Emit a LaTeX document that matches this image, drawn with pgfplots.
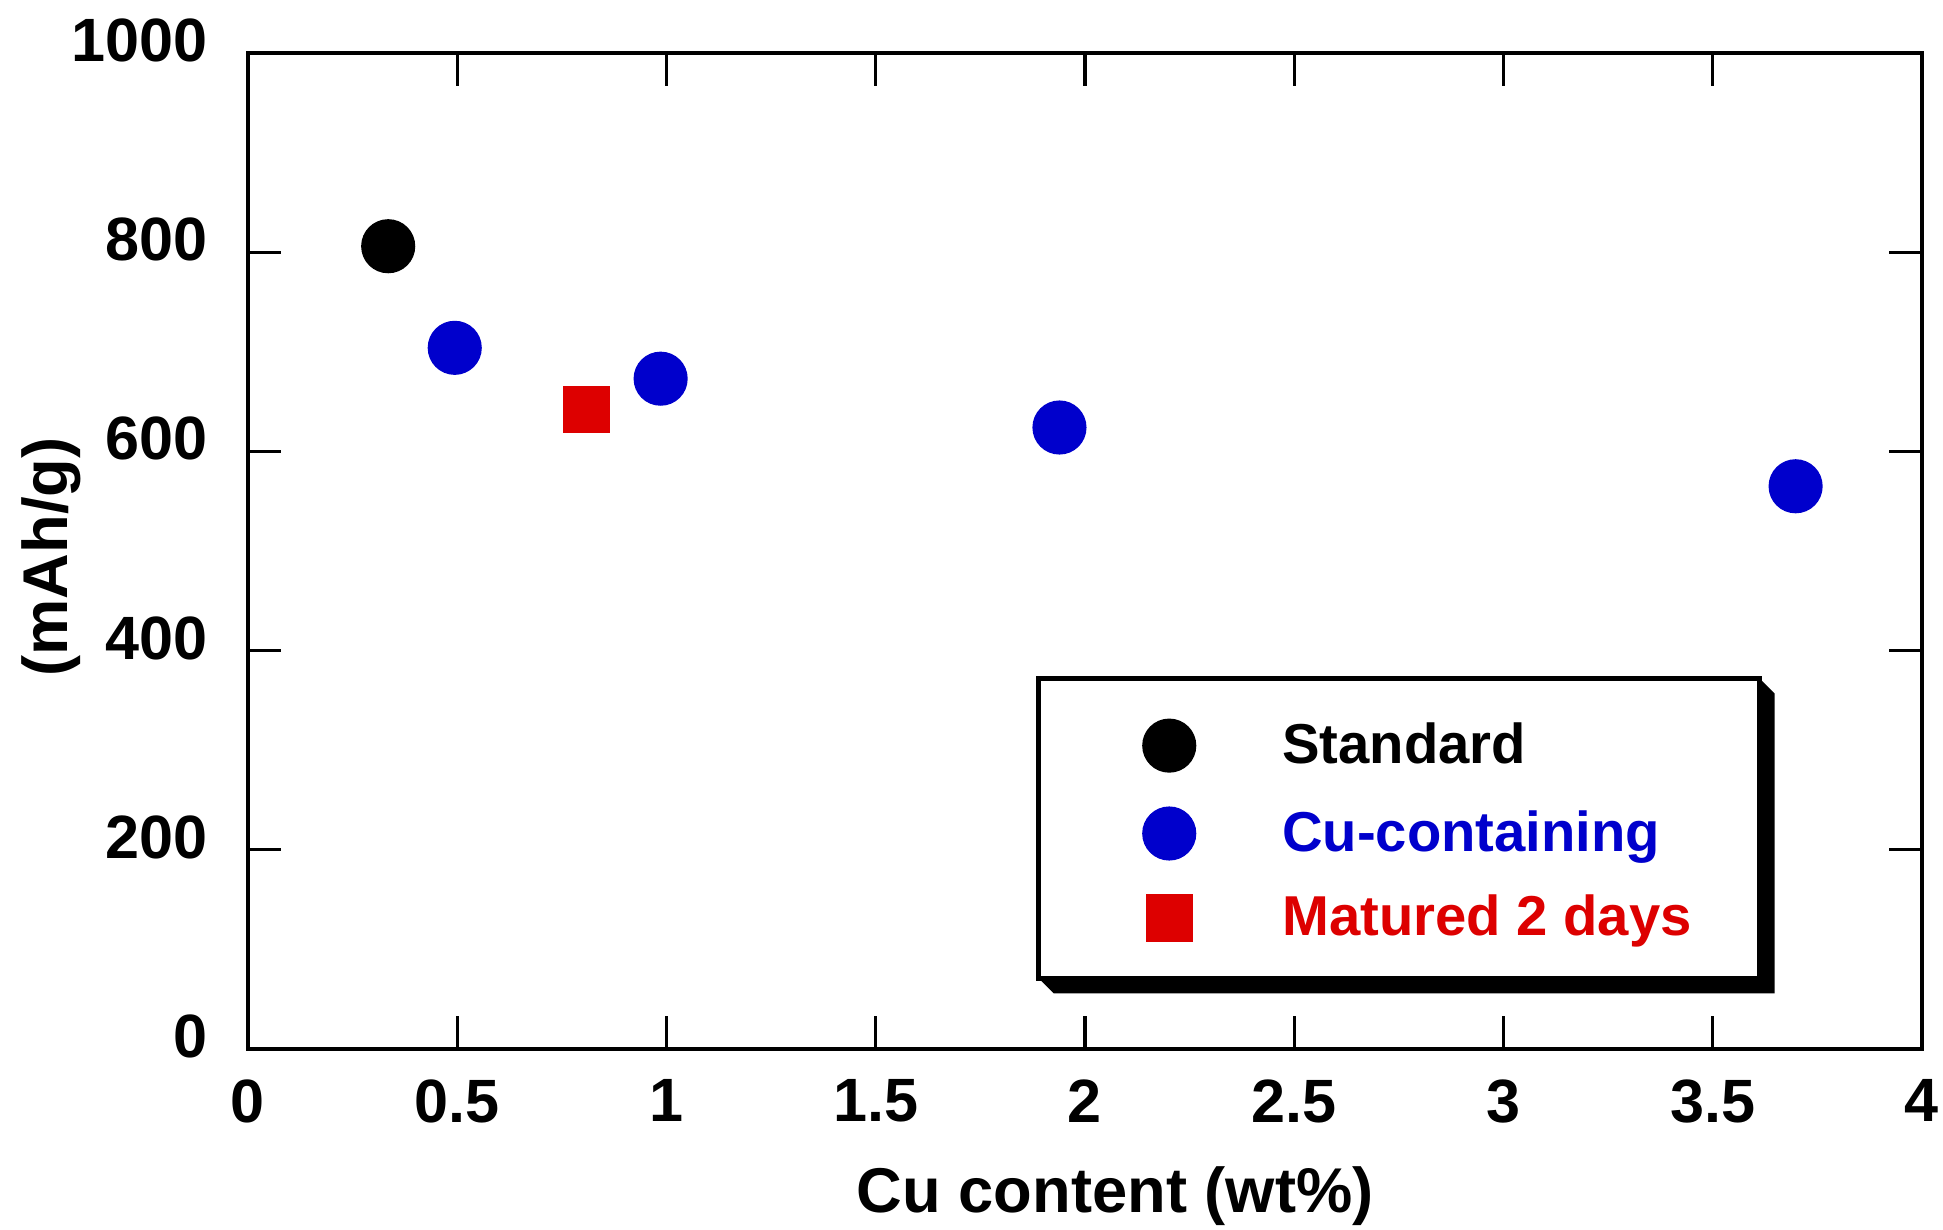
\documentclass[border=0pt]{standalone}
\usepackage{fontspec}
\setmainfont{Liberation Sans}
\usepackage{pgfplots}
\pgfplotsset{compat=1.18}
\definecolor{myblue}{RGB}{0,0,204}
\definecolor{myred}{RGB}{221,0,0}
\newcommand\lstrut{\rule[-1.5pt]{0pt}{13pt}}
\begin{document}
\begin{tikzpicture}
\path[use as bounding box] (-2.48cm,-1.80cm) rectangle (16.95cm,10.49cm);
\begin{axis}[
  scale only axis, width=16.74cm, height=9.96cm,
  at={(0,0)}, anchor=south west,
  xmin=0, xmax=4, ymin=0, ymax=1000,
  xtick={0,0.5,1,1.5,2,2.5,3,3.5,4},
  ytick={0,200,400,600,800,1000},
  tick align=inside, xtick pos=both, ytick pos=both,
  major tick length=0.33cm,
  axis line style={line width=0.9pt},
  every tick/.style={black, line width=0.9pt},
  /pgf/number format/assume math mode=true,
  /pgf/number format/1000 sep={},
  ticklabel style={font=\fontsize{17.4}{20}\selectfont\bfseries},
  yticklabel style={anchor=east, inner sep=0pt, xshift=-0.40cm, yshift=0.125cm},
  xticklabel style={anchor=north, inner sep=0pt, yshift=-0.30cm},
  xlabel={Cu content (wt\%)},
  xlabel style={at={(axis description cs:0.518,-0.1475)}, anchor=center, font=\fontsize{18}{21}\selectfont\bfseries},
  ylabel={(mAh/g)},
  ylabel style={at={(axis description cs:-0.1177,0.494)}, anchor=center, font=\fontsize{18}{21}\selectfont\bfseries},
  legend cell align=left,
  legend style={at={(axis cs:1.889,372)}, anchor=north west, draw=none, fill=none,
    inner xsep=0.67cm, inner ysep=11.4pt, row sep=10pt, column sep=0.83cm,
    font=\fontsize{16}{19}\selectfont\bfseries,
    nodes={inner sep=0pt}},
  legend image code/.code={\path[draw=none,fill=none] (-0.33cm,-0.1cm) rectangle (0.6cm,0.1cm);
    \draw[mark repeat=2,mark phase=2] plot coordinates {(0cm,0cm)(0.3cm,0cm)(0.6cm,0cm)};},
]
% legend frame with 3D shadow
\fill[black] (axis cs:1.889,71) -- ([xshift=0.15cm,yshift=-0.15cm]axis cs:1.889,71)
  -- ([xshift=0.15cm,yshift=-0.15cm]axis cs:3.612,71)
  -- ([xshift=0.15cm,yshift=-0.15cm]axis cs:3.612,372)
  -- (axis cs:3.612,372) -- cycle;
\draw[black, line width=1.4pt, fill=white] (axis cs:1.889,71) rectangle (axis cs:3.612,372);
\addplot[only marks, mark=*, mark size=7.5pt, color=black, mark options={line width=0.4pt}]
  coordinates {(0.335,806)};
\addlegendentry{\lstrut Standard}
\addplot[only marks, mark=*, mark size=7.5pt, color=myblue, mark options={line width=0.4pt}]
  coordinates {(0.494,704) (0.986,673) (1.939,624) (3.698,565)};
\addlegendentry{\lstrut\textcolor{myblue}{Cu-containing}}
\addplot[only marks, mark=square*, mark size=6.5pt, color=myred, mark options={line width=0.4pt}]
  coordinates {(0.808,642)};
\addlegendentry{\lstrut\textcolor{myred}{Matured 2 days}}
\end{axis}
\end{tikzpicture}
\end{document}
